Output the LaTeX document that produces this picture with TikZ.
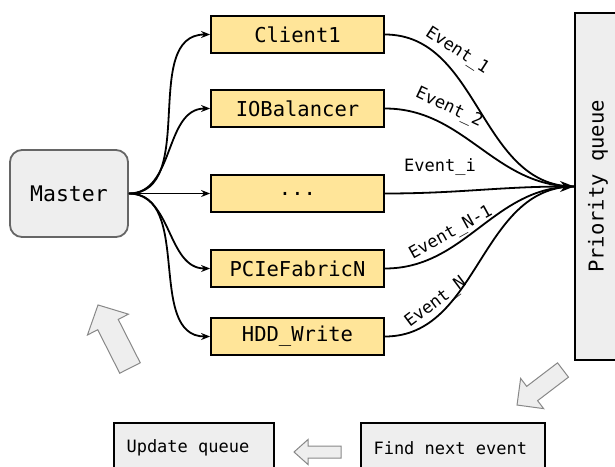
\documentclass[tikz,border=0pt]{standalone}
\usepackage{fontspec}
\setmonofont{DejaVu Sans Mono}
\usetikzlibrary{arrows.meta}
\definecolor{boxyellow}{HTML}{FFE599}
\definecolor{lightgray}{HTML}{EEEEEE}
\definecolor{midgray}{HTML}{666666}
\definecolor{arrowgray}{HTML}{888888}
\newcommand\hollowarrow[7]{%
  \draw[hollow, shift={(#1,#2)}, rotate=#3]
    (0,{-#5/2}) -- ({#4-#7},{-#5/2}) -- ({#4-#7},{-#6/2}) -- (#4,0)
    -- ({#4-#7},{#6/2}) -- ({#4-#7},{#5/2}) -- (0,{#5/2}) -- cycle;}
\begin{document}
\begin{tikzpicture}[x=1pt,y=-1pt,
  every node/.style={font=\ttfamily},
  bigfont/.style={font=\ttfamily\fontsize{20.5}{24}\selectfont},
  smallfont/.style={font=\ttfamily\fontsize{17}{20}\selectfont},
  process/.style={draw=black, line width=1.8pt, fill=boxyellow, minimum width=173pt,
    minimum height=37pt, inner sep=0pt, bigfont},
  masterbox/.style={draw=midgray, line width=1.8pt, fill=lightgray, rounded corners=12pt,
    minimum width=118pt, minimum height=87pt, inner sep=0pt, font=\ttfamily\fontsize{21.5}{24}\selectfont},
  graybox/.style={draw=black, line width=1.8pt, fill=lightgray, inner sep=0pt},
  edge/.style={line width=1.8pt, -{Stealth[length=9pt,width=7pt]}},
  evedge/.style={line width=1.8pt},
  evlabel/.style={smallfont, inner sep=1pt},
  hollow/.style={draw=arrowgray, line width=1pt, fill=lightgray, line join=miter}
]
\useasboundingbox (0,0) rectangle (615,466);
\clip (0,0) rectangle (615,466);

\node[masterbox] (master) at (69,193.5) {Master};
\node[process] (c1) at (297.5,34.5) {Client1};
\node[process] (io) at (297.5,108.5) {IOBalancer};
\node[process] (dots) at (297.5,193.5) {...};
\node[process] (pci) at (297.5,268.5) {PCIeFabricN};
\node[process] (hdd) at (297.5,336.5) {HDD\_Write};

\node[graybox, minimum width=46pt, minimum height=347pt] (pq) at (598,186.5) {};
\node[bigfont, rotate=90] (pqt) at (pq.center) {Priority queue};

\node[graybox, minimum width=184pt, minimum height=50pt, smallfont] (find) at (453,448) {};
\node[smallfont, anchor=west] (findt) at (370,448) {Find next event};
\node[graybox, minimum width=160pt, minimum height=50pt] (upd) at (194,448) {};
\node[smallfont, anchor=west] (updt) at (123,448) {Update queue};

\foreach \t in {c1,io,dots,pci,hdd}
  \draw[edge] (master.east) to[out=0,in=180] (\t.west);

\coordinate (pqin) at (pq.west);
\draw[evedge] (c1.east) to[out=0,in=180] (pqin);
\draw[evedge] (io.east) to[out=0,in=180] (pqin);
\draw[evedge] (pci.east) to[out=0,in=180] (pqin);
\draw[evedge] (hdd.east) to[out=0,in=180] (pqin);
\draw[edge, -{Stealth[length=14pt,width=11pt]}] (dots.east) to[out=0,in=180] (pqin);

\node[evlabel, rotate=-33] (e1) at (457,51) {Event\_1};
\node[evlabel, rotate=-25] (e2) at (449,108) {Event\_2};
\node[evlabel] (ei) at (440,167) {Event\_i};
\node[evlabel, rotate=29] (en1) at (451,233) {Event\_N-1};
\node[evlabel, rotate=37] (en) at (436,303) {Event\_N};

\hollowarrow{130}{368}{116.9}{70.7}{23}{46}{22}
\hollowarrow{563}{370}{217.3}{57.8}{18}{38}{19}
\hollowarrow{341}{452}{180}{47}{12}{25}{14}
\end{tikzpicture}
\end{document}
